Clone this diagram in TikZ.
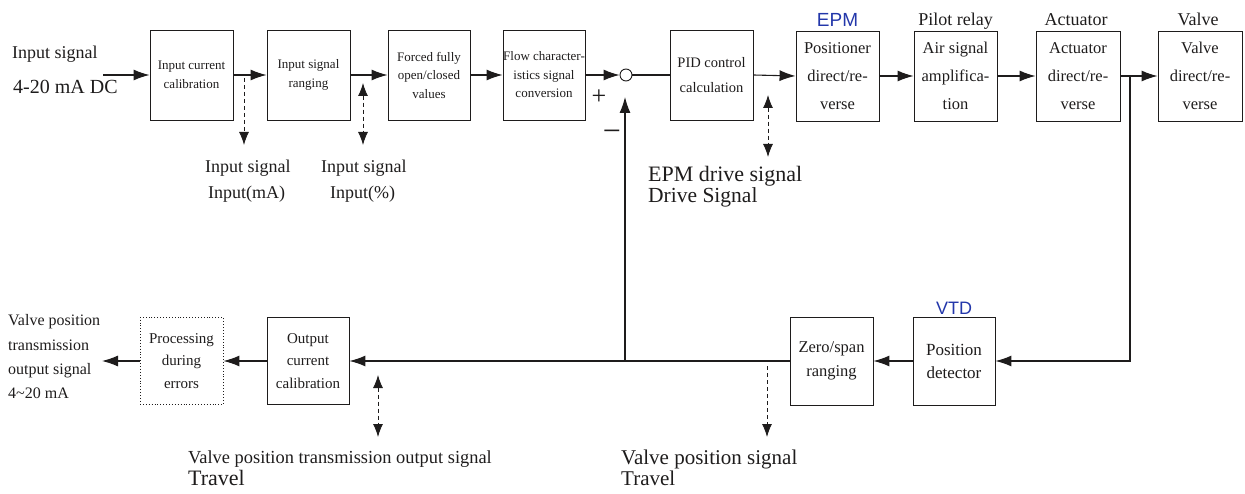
\documentclass[tikz,border=0pt]{standalone}
\usepackage{fontspec}
\setmainfont{Liberation Serif}
\newfontfamily\sansf{Liberation Sans}
\usetikzlibrary{arrows.meta}
\definecolor{ink}{RGB}{30,28,28}
\definecolor{epmblue}{RGB}{35,55,170}
\newcommand\myfs[2]{\fontsize{#1}{#2}\selectfont}
\begin{document}
\begin{tikzpicture}[x=1pt,y=-1pt,
  blk/.style={draw=ink, line width=0.9pt, minimum width=83pt, minimum height=90pt, inner sep=0pt, align=center, text=ink},
  dotblk/.style={blk, dotted},
  lbl/.style={inner sep=0pt, text=ink, anchor=base west},
  ttl/.style={inner sep=0pt, text=ink, anchor=base, font=\myfs{18}{20}},
  blue/.style={inner sep=0pt, text=epmblue, anchor=base, font=\sansf\myfs{19}{20}},
  conn/.style={draw=ink, line width=1.1pt},
  arr/.style={conn, -{Latex[length=16pt,width=11pt]}},
  dsh/.style={draw=ink, line width=0.9pt, dash pattern=on 4pt off 3pt},
  darr/.style={dsh, -{Latex[length=13pt,width=10pt]}},
  ddarr/.style={dsh, {Latex[length=13pt,width=10pt]}-{Latex[length=13pt,width=10pt]}}
]
\useasboundingbox (0,0) rectangle (1245,494);

% top row boxes
\node[blk, font=\myfs{13}{19}] (b1) at (191.5,75) {Input current\\calibration};
\node[blk, font=\myfs{13}{19}] (b2) at (308.5,75) {Input signal\\ranging};
\node[blk, font=\myfs{13}{18.5}, minimum width=82pt] (b3) at (429,75) {Forced fully\\open/closed\\values};
\node[blk, font=\myfs{13}{18.5}, minimum width=82pt] (b4) at (544,75) {Flow character-\\istics signal\\conversion};
\node[draw=ink, line width=0.9pt, circle, minimum size=12pt, inner sep=0pt] (sum) at (626,75) {};
\node[blk, font=\myfs{14.5}{25}] (pid) at (711.5,75) {PID control\\calculation};
\node[blk, font=\myfs{16.5}{28}] (pos) at (837.5,76) {Positioner\\direct/re-\\verse};
\node[blk, font=\myfs{16.5}{28}] (pil) at (955.5,76) {Air signal\\amplifica-\\tion};
\node[blk, font=\myfs{16.5}{28}, minimum width=84pt] (act) at (1078,76) {Actuator\\direct/re-\\verse};
\node[blk, font=\myfs{16.5}{28}, minimum width=84pt] (val) at (1200,76) {Valve\\direct/re-\\verse};

% titles
\node[blue] (epm) at (837.5,27) {EPM};
\node[ttl] (tpil) at (955.5,26) {Pilot relay};
\node[ttl] (tact) at (1076,26) {Actuator};
\node[ttl] (tval) at (1198,26) {Valve};

% bottom row boxes
\node[blk, font=\myfs{17}{23}, minimum width=82pt, minimum height=88pt] (pd) at (954,361) {Position\\detector};
\node[blue, font=\sansf\myfs{18}{20}] (vtd) at (954,315) {VTD};
\node[blk, font=\myfs{16.5}{24}, minimum height=88pt] (zs) at (831.5,361) {Zero/span\\ranging};
\node[blk, font=\myfs{15}{22.5}, minimum width=82pt, minimum height=87pt] (occ) at (308,361) {Output\\current\\calibration};
\node[dotblk, font=\myfs{15}{22.5}, minimum height=87pt] (proc) at (181.5,361) {Processing\\during\\errors};

% coordinates
\coordinate (inS) at (103,75);
\coordinate (br) at (1130,76);
\coordinate (fb) at (625,361);
\coordinate (fbtip) at (625,97);
\coordinate (outE) at (102,361);

% main connectors
\draw[arr] (inS) -- (b1.west);
\draw[arr] (b1.east) -- (b2.west);
\draw[arr] (b2.east) -- (b3.west);
\draw[arr] (b3.east) -- (b4.west);
\draw[arr] (b4.east) -- (sum.west);
\draw[conn] (sum.east) -- (pid.west);
\draw[arr] (pid.east) -- (pos.west);
\draw[arr] (pos.east) -- (pil.west);
\draw[arr] (pil.east) -- (act.west);
\draw[arr] (act.east) -- (val.west);
\draw[arr] (br) |- (pd.east);
\draw[arr] (pd.west) -- (zs.east);
\draw[arr] (zs.west) -- (occ.east);
\draw[arr] (fb) -- (fbtip);
\draw[arr] (occ.west) -- (proc.east);
\draw[arr] (proc.west) -- (outE);

% signs
\node[inner sep=0pt, text=ink, font=\myfs{26}{26}] (plus) at (599,97) {+};
\node[inner sep=0pt, text=ink, font=\myfs{32}{32}] (minus) at (612,136) {−};

% dashed taps
\coordinate (d1a) at (244,78);
\coordinate (d1b) at (244,145);
\coordinate (d2a) at (363,83);
\coordinate (d2b) at (363,145);
\coordinate (d3a) at (768,95);
\coordinate (d3b) at (768,157);
\coordinate (d4a) at (767,366);
\coordinate (d4b) at (767,437);
\coordinate (d5a) at (378,375);
\coordinate (d5b) at (378,437);
\draw[darr] (d1a) -- (d1b);
\draw[ddarr] (d2a) -- (d2b);
\draw[ddarr] (d3a) -- (d3b);
\draw[darr] (d4a) -- (d4b);
\draw[ddarr] (d5a) -- (d5b);

% labels
\node[lbl, font=\myfs{18}{20}] (in1) at (12,59) {Input signal};
\node[lbl, font=\myfs{20}{22}] (in2) at (13,94) {4-20 mA DC};
\node[lbl, font=\myfs{18}{20}] (ma1) at (205,173) {Input signal};
\node[lbl, font=\myfs{18}{20}] (ma2) at (208,199) {Input(mA)};
\node[lbl, font=\myfs{18}{20}] (pc1) at (321,173) {Input signal};
\node[lbl, font=\myfs{18}{20}] (pc2) at (330,199) {Input(\%)};
\node[lbl, font=\myfs{22}{24}] (ep1) at (648,182) {EPM drive signal};
\node[lbl, font=\myfs{21.5}{24}] (ep2) at (648,203) {Drive Signal};
\node[lbl, font=\myfs{18.4}{20}] (vt1) at (188,463) {Valve position transmission output signal};
\node[lbl, font=\myfs{22}{24}] (vt2) at (188,485) {Travel};
\node[lbl, font=\myfs{21}{24}] (vp1) at (621,464) {Valve position signal};
\node[lbl, font=\myfs{21}{24}] (vp2) at (621,485) {Travel};
\node[lbl, font=\myfs{16}{18}] (o1) at (8,326) {Valve position};
\node[lbl, font=\myfs{16}{18}] (o2) at (8,350) {transmission};
\node[lbl, font=\myfs{16}{18}] (o3) at (8,374) {output signal};
\node[lbl, font=\myfs{16}{18}] (o4) at (8,398) {4\textasciitilde20 mA};
\end{tikzpicture}
\end{document}
